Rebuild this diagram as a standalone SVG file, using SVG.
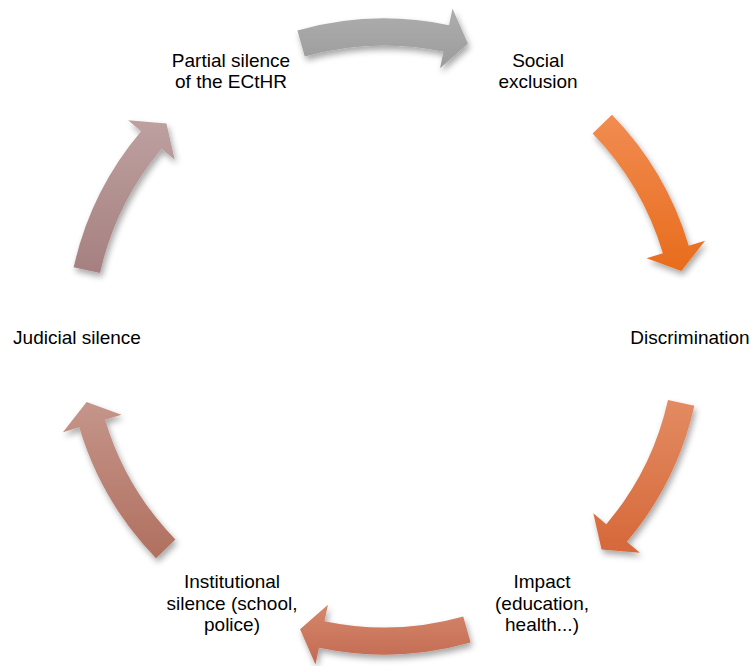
<svg xmlns="http://www.w3.org/2000/svg" width="755" height="666" viewBox="0 0 755 666">
<style>
.t{font-family:"Liberation Sans",Arial,sans-serif;font-size:19px;fill:#000;text-anchor:middle}
.arr{filter:url(#sh)}
</style>
<defs>
<filter id="sh" x="-30%" y="-30%" width="160%" height="160%">
<feDropShadow dx="2" dy="4" stdDeviation="3" flood-color="#000" flood-opacity="0.35"/>
</filter>
<linearGradient id="g0" x1="0" y1="0" x2="0" y2="1"><stop offset="0" stop-color="#adadad"/><stop offset="1" stop-color="#9c9c9c"/></linearGradient>
<linearGradient id="g1" x1="0" y1="0" x2="0" y2="1"><stop offset="0" stop-color="#f18c52"/><stop offset="1" stop-color="#e86c1c"/></linearGradient>
<linearGradient id="g2" x1="0" y1="0" x2="0" y2="1"><stop offset="0" stop-color="#e38b62"/><stop offset="1" stop-color="#d6683a"/></linearGradient>
<linearGradient id="g3" x1="0" y1="0" x2="0" y2="1"><stop offset="0" stop-color="#d5876b"/><stop offset="1" stop-color="#c26a52"/></linearGradient>
<linearGradient id="g4" x1="0" y1="0" x2="0" y2="1"><stop offset="0" stop-color="#c5958b"/><stop offset="1" stop-color="#b0705f"/></linearGradient>
<linearGradient id="g5" x1="0" y1="0" x2="0" y2="1"><stop offset="0" stop-color="#bea0a0"/><stop offset="1" stop-color="#a68080"/></linearGradient>
</defs>
<g id="connectors">
<path class="arr" fill="url(#g0)" d="M297.41,30.51 A318,318 0 0 1 449.03,25.22 L452.51,8.58 L467.93,43.80 L440.03,68.29 L443.51,51.65 A291,291 0 0 0 304.77,56.49 Z"/>
<path class="arr" fill="url(#g1)" d="M611.98,114.80 A318,318 0 0 1 688.75,245.65 L705.04,240.79 L681.40,271.11 L646.58,258.22 L662.87,253.36 A291,291 0 0 0 592.62,133.62 Z"/>
<path class="arr" fill="url(#g2)" d="M694.34,405.87 A318,318 0 0 1 626.89,541.76 L639.87,552.73 L601.56,549.55 L593.28,513.36 L606.27,524.33 A291,291 0 0 0 667.99,399.98 Z"/>
<path class="arr" fill="url(#g3)" d="M470.59,642.49 A318,318 0 0 1 318.97,647.78 L315.49,664.42 L300.07,629.20 L327.97,604.71 L324.49,621.35 A291,291 0 0 0 463.23,616.51 Z"/>
<path class="arr" fill="url(#g4)" d="M156.02,558.20 A318,318 0 0 1 79.25,427.35 L62.96,432.21 L86.60,401.89 L121.42,414.78 L105.13,419.64 A291,291 0 0 0 175.38,539.38 Z"/>
<path class="arr" fill="url(#g5)" d="M73.66,267.13 A318,318 0 0 1 141.11,131.24 L128.13,120.27 L166.44,123.45 L174.72,159.64 L161.73,148.67 A291,291 0 0 0 100.01,273.02 Z"/>
</g>
<g id="node-social-exclusion"><text class="t" x="538" y="67">Social</text><text class="t" x="538" y="88">exclusion</text></g>
<g id="node-discrimination"><text class="t" x="690" y="344">Discrimination</text></g>
<g id="node-impact"><text class="t" x="542" y="588">Impact</text><text class="t" x="542" y="610">(education,</text><text class="t" x="542" y="631">health...)</text></g>
<g id="node-institutional-silence"><text class="t" x="232" y="588">Institutional</text><text class="t" x="232" y="610">silence (school,</text><text class="t" x="232" y="631">police)</text></g>
<g id="node-judicial-silence"><text class="t" x="77" y="344">Judicial silence</text></g>
<g id="node-partial-silence"><text class="t" x="231" y="67">Partial silence</text><text class="t" x="231" y="88">of the ECtHR</text></g>
</svg>
